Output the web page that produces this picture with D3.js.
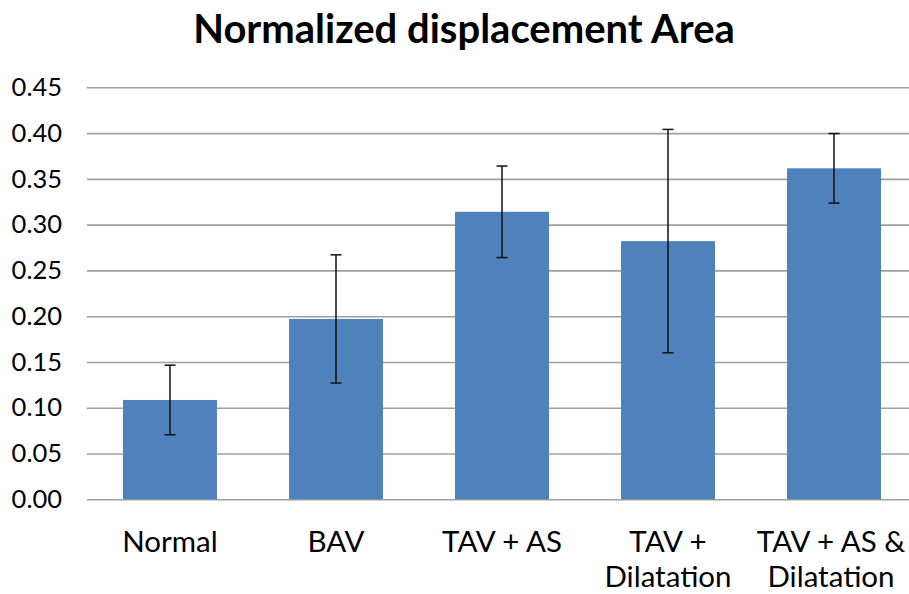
<!DOCTYPE html>
<html>
<head>
<meta charset="utf-8">
<script src="https://cdn.jsdelivr.net/npm/d3@7"></script>
<style>
  body { margin: 0; background: #fff; }
  svg { display: block; }
  .tick text { font-family: Lato, "Open Sans", sans-serif; fill: #000; }
</style>
</head>
<body>
<svg id="chart" width="909" height="594"></svg>
<script>
// values
let categories = ['Normal', 'BAV', 'TAV + AS', 'TAV + Dilatation', 'TAV + AS & Dilatation']
let labelLines = [['Normal'], ['BAV'], ['TAV + AS'], ['TAV +', 'Dilatation'], ['TAV + AS &', 'Dilatation']]
let means = [0.1085, 0.197, 0.314, 0.282, 0.3615]
let errors = [0.038, 0.070, 0.050, 0.122, 0.038]
let yTicks = [0, 0.05, 0.10, 0.15, 0.20, 0.25, 0.30, 0.35, 0.40, 0.45]

let svg = d3.select('#chart')

let plotLeft = 87
let plotRight = 917
let plotTop = 87.3
let plotBottom = 499.3

let x = d3.scaleBand()
          .domain(categories)
          .range([plotLeft, plotRight])
          .paddingInner(0.434)
          .paddingOuter(0.217)

let y = d3.scaleLinear()
          .domain([0, 0.45])
          .range([plotBottom, plotTop])

// gridlines + y labels
let yAxis = svg.append('g')
               .attr('transform', 'translate(' + plotLeft + ',0)')
               .call(d3.axisLeft(y)
                       .tickValues(yTicks)
                       .tickFormat(d3.format('.2f'))
                       .tickSize(-(plotRight - plotLeft))
                       .tickPadding(25))
yAxis.select('.domain').remove()
yAxis.selectAll('.tick line')
     .attr('stroke', '#a0a0a0')
     .attr('stroke-width', 1.6)
yAxis.selectAll('.tick text')
     .attr('font-size', 25.5)

// bars
svg.selectAll('rect.bar')
   .data(categories)
   .enter()
   .append('rect')
   .attr('class', 'bar')
   .attr('x', d => x(d))
   .attr('width', x.bandwidth())
   .attr('y', (d, i) => y(means[i]))
   .attr('height', (d, i) => y(0) - y(means[i]))
   .attr('fill', '#4f81bd')

// error bars
let err = svg.selectAll('g.err')
             .data(categories)
             .enter()
             .append('g')
             .attr('class', 'err')
             .attr('stroke', '#111')
             .attr('stroke-width', 1.5)
let cx = d => x(d) + x.bandwidth() / 2
err.append('line')
   .attr('x1', cx).attr('x2', cx)
   .attr('y1', (d, i) => y(means[i] + errors[i]))
   .attr('y2', (d, i) => y(means[i] - errors[i]))
err.append('line')
   .attr('x1', d => cx(d) - 5.5).attr('x2', d => cx(d) + 5.5)
   .attr('y1', (d, i) => y(means[i] + errors[i]))
   .attr('y2', (d, i) => y(means[i] + errors[i]))
err.append('line')
   .attr('x1', d => cx(d) - 5.5).attr('x2', d => cx(d) + 5.5)
   .attr('y1', (d, i) => y(means[i] - errors[i]))
   .attr('y2', (d, i) => y(means[i] - errors[i]))

// category labels (wrapped)
let xAxis = svg.append('g')
               .attr('transform', 'translate(0,' + plotBottom + ')')
               .call(d3.axisBottom(x).tickSize(0).tickFormat(''))
xAxis.select('.domain').remove()
xAxis.selectAll('.tick text').remove()
xAxis.selectAll('.tick')
     .append('text')
     .attr('font-size', 29.5)
     .attr('text-anchor', 'middle')
     .each(function (d, i) {
         let t = d3.select(this)
         labelLines[i].forEach((line, k) => {
             t.append('tspan')
              .attr('x', i == 4 ? -3 : 0)
              .attr('y', 53 + k * 35)
              .text(line)
         })
     })

// title
svg.append('text')
   .attr('x', 464)
   .attr('y', 43)
   .attr('text-anchor', 'middle')
   .attr('font-family', 'Lato, "Open Sans", sans-serif')
   .attr('font-weight', 'bold')
   .attr('font-size', 40)
   .text('Normalized displacement Area')
</script>
</body>
</html>
